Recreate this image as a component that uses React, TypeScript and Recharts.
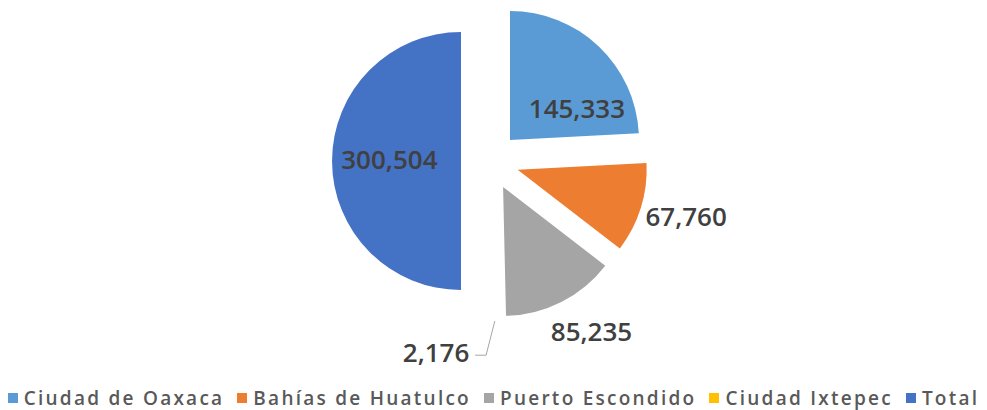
import React from "react";
import { PieChart, Pie, Cell, Sector } from "recharts";

// visitantes por destino
const categories = ["Ciudad de Oaxaca", "Bahías de Huatulco", "Puerto Escondido", "Ciudad Ixtepec", "Total"];
const values = [145333, 67760, 85235, 2176, 300504];
const colors = ["#5B9BD5", "#ED7D31", "#A5A5A5", "#FFC000", "#4472C4"];

const data = categories.map((name, i) => ({ name, value: values[i] }));

const CX = 490;
const CY = 161;
const R = 129;
const EXPLODE = 29;
const RAD = Math.PI / 180;

// label placement: radius as a fraction of R, angle shift from the slice's mid angle
const labelPlacement = [
    { r: 0.79, shift: -15 },
    { r: 1.58, shift: 1.6 },
    { r: 1.535, shift: 4 },
    { r: 1.54, shift: -16.4 },
    { r: 0.78, shift: -1 },
];

const fmt = (v: number) => v.toLocaleString("en-US");

const ExplodedSector = (props: any) => {
    const mid = props.midAngle;
    const dx = EXPLODE * Math.cos(-mid * RAD);
    const dy = EXPLODE * Math.sin(-mid * RAD);
    return <Sector {...props} cx={props.cx + dx} cy={props.cy + dy} />;
};

const renderLabel = (props: any) => {
    const { midAngle, index, value } = props;
    const cx = props.cx ?? CX;
    const cy = props.cy ?? CY;
    const p = labelPlacement[index];
    const a = (midAngle + p.shift) * RAD;
    const x = cx + R * p.r * Math.cos(-a);
    const y = cy + R * p.r * Math.sin(-a);
    let line = null;
    if (index === 3) {
        const sx = cx + 3 + (R + EXPLODE + 2) * Math.cos(-midAngle * RAD);
        const sy = cy + (R + EXPLODE + 2) * Math.sin(-midAngle * RAD);
        line = (
            <polyline
                points={`${sx},${sy} ${x + 50},${y + 3} ${x + 39},${y + 3}`}
                fill="none"
                stroke="#A6A6A6"
                strokeWidth={1}
            />
        );
    }
    return (
        <g key={`lbl-${index}`}>
            {line}
            <text
                x={x}
                y={y}
                textAnchor="middle"
                dominantBaseline="central"
                fill="#404040"
                style={{ fontFamily: "'Open Sans'", fontWeight: 600, fontSize: 26 }}
            >
                {fmt(value)}
            </text>
        </g>
    );
};

export default function App() {
    return (
        <div style={{ position: "absolute", left: 0, top: 0, width: 987, height: 410, background: "#fff" }}>
            <PieChart width={987} height={410} margin={{ top: 0, right: 0, bottom: 0, left: 0 }}>
                <Pie
                    data={data}
                    dataKey="value"
                    nameKey="name"
                    cx={CX}
                    cy={CY}
                    outerRadius={R}
                    startAngle={90}
                    endAngle={-270}
                    stroke="none"
                    label={renderLabel}
                    labelLine={false}
                    activeShape={ExplodedSector}
                    inactiveShape={ExplodedSector}
                    shape={ExplodedSector}
                    isAnimationActive={false}
                >
                    {data.map((d, i) => (
                        // the Ixtepec sliver is hidden under a white edge, as in the original
                        <Cell
                            key={d.name}
                            fill={colors[i]}
                            stroke={i === 3 ? "#fff" : "none"}
                            strokeWidth={i === 3 ? 4 : 0}
                        />
                    ))}
                </Pie>
            </PieChart>
            <div
                style={{
                    position: "absolute",
                    left: 0,
                    top: 386,
                    width: 987,
                    display: "flex",
                    justifyContent: "center",
                    fontFamily: "'Open Sans'",
                    fontWeight: 600,
                    fontSize: 19,
                    letterSpacing: 2.25,
                    color: "#595959",
                    lineHeight: "24px",
                }}
            >
                {categories.map((c, i) => (
                    <span key={c} style={{ display: "flex", alignItems: "center", marginRight: i < categories.length - 1 ? 13 : 0 }}>
                        <span style={{ width: 10, height: 10, background: colors[i], marginRight: 6, display: "inline-block" }} />
                        {c}
                    </span>
                ))}
            </div>
        </div>
    );
}
